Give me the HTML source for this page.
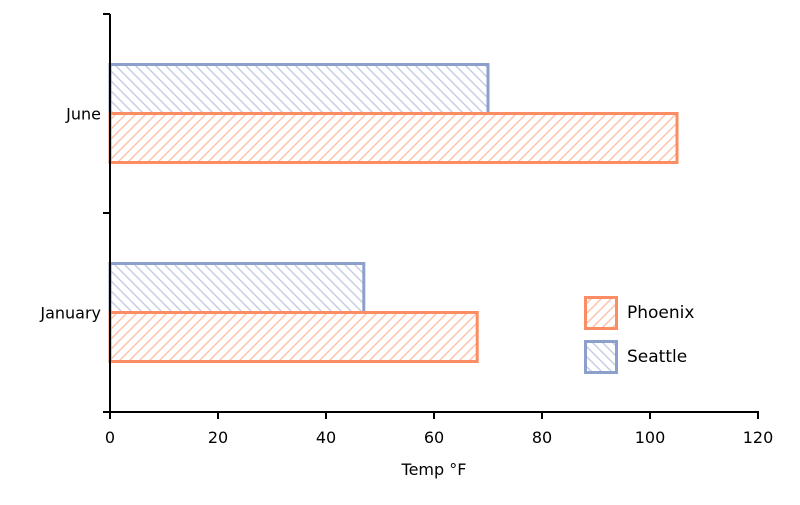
<!DOCTYPE html>
<html><head><meta charset="utf-8"><style>body{margin:0;background:#fff}svg{font-family:"DejaVu Sans","Liberation Sans",sans-serif}</style></head>
<body>
<svg id="chart" width="800" height="500">
<defs>
<pattern id="hp" patternUnits="userSpaceOnUse" width="10" height="10"><path d="M-2,12 L12,-2 M-2,2 L2,-2 M8,12 L12,8" stroke="#fdc3ab" stroke-width="1.5"/></pattern>
<pattern id="hs" patternUnits="userSpaceOnUse" width="10" height="10"><path d="M-2,-2 L12,12 M-2,8 L2,12 M8,-2 L12,2" stroke="#c4cde5" stroke-width="1.5"/></pattern>
</defs>
<g id="plot"></g>
</svg>
<script>
const categories=["June","January"];
const phoenix=[105,68];
const seattle=[70,47];
const xTicks=[0,20,40,60,80,100,120];
const ns="http://www.w3.org/2000/svg";
const g=document.getElementById('plot');
const x0=110,x1=758,xMax=120,yTop=14,yBot=412;
const xs=v=>x0+(v/xMax)*(x1-x0);
const band=(yBot-yTop)/categories.length;
function el(t,a,txt){const e=document.createElementNS(ns,t);for(const k in a)e.setAttribute(k,a[k]);if(txt!=null)e.textContent=txt;g.appendChild(e);return e;}
categories.forEach((c,i)=>{
  const cy=yTop+band*(i+0.5);
  let r=el('rect',{x:xs(0),y:cy-49,width:xs(seattle[i])-xs(0),height:49,fill:'url(#hs)',stroke:'#8da0cb','stroke-width':3});
  
  
  r=el('rect',{x:xs(0),y:cy,width:xs(phoenix[i])-xs(0),height:49,fill:'url(#hp)',stroke:'#fc8d62','stroke-width':3});
  
  
  const t=el('text',{x:101,y:cy+6,'text-anchor':'end','font-size':16},c);
  
  
});
for(let i=0;i<=categories.length;i++){const y=yTop+band*i;const l=el('line',{x1:103,x2:110,y1:y,y2:y,stroke:'#000','stroke-width':2});}
let ax=el('line',{x1:110,x2:110,y1:yTop,y2:yBot,stroke:'#000','stroke-width':2});


ax=el('line',{x1:103,x2:x1+1,y1:yBot,y2:yBot,stroke:'#000','stroke-width':2});


xTicks.forEach(v=>{
  const l=el('line',{x1:xs(v),x2:xs(v),y1:yBot,y2:yBot+7,stroke:'#000','stroke-width':2});
  
  
  const t=el('text',{x:xs(v),y:443,'text-anchor':'middle','font-size':16},String(v));
  
  
});
let tt=el('text',{x:434,y:475,'text-anchor':'middle','font-size':16},'Temp °F');


[['Phoenix','url(#hp)','#fc8d62',296],['Seattle','url(#hs)','#8da0cb',340]].forEach(([n,f,s,y])=>{
  const r=el('rect',{x:585.5,y:y+1.5,width:31,height:31,fill:f,stroke:s,'stroke-width':3});
  
  
  const t=el('text',{x:627,y:y+22,'font-size':17},n);
  
  
});
</script>
</body></html>
